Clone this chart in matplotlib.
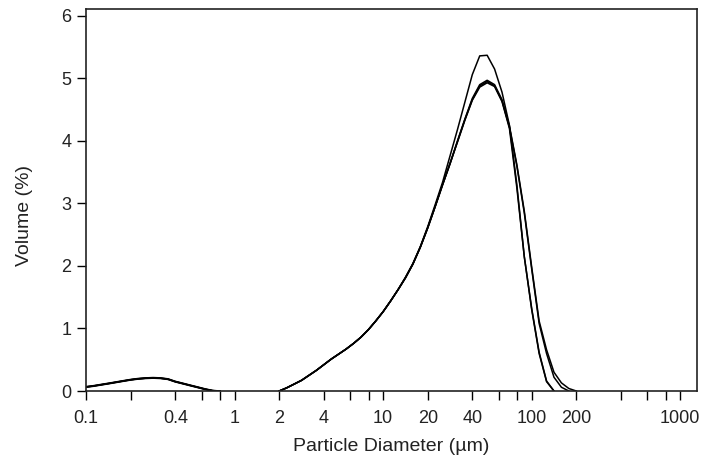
import numpy as np
import matplotlib
matplotlib.use("Agg")
import matplotlib.pyplot as plt
from matplotlib.ticker import FixedLocator, NullFormatter

plt.rcParams['font.family'] = ['Liberation Sans', 'DejaVu Sans']

# size classes (um), instrument bins
sizes = [0.100, 0.112, 0.126, 0.142, 0.159, 0.178, 0.200, 0.224, 0.252, 0.283,
         0.317, 0.356, 0.399, 0.448, 0.502, 0.564, 0.632, 0.710, 0.796, 0.893,
         1.002, 1.125, 1.262, 1.416, 1.589, 1.783, 2.000, 2.244, 2.518, 2.825,
         3.170, 3.557, 3.991, 4.477, 5.024, 5.637, 6.325, 7.096, 7.962, 8.934,
         10.024, 11.247, 12.619, 14.159, 15.887, 17.825, 20.000, 22.440, 25.179, 28.251,
         31.698, 35.566, 39.905, 44.774, 50.238, 56.368, 63.246, 70.963, 79.621, 89.337,
         100.237, 112.468, 126.191, 141.589, 158.866, 178.250, 200.000]

# volume % for each replicate
run_a = [0.065, 0.08, 0.10, 0.12, 0.14, 0.16, 0.18, 0.195, 0.205, 0.21,
         0.205, 0.19, 0.15, 0.12, 0.09, 0.06, 0.03, 0.005, 0.0, 0.0,
         0.0, 0.0, 0.0, 0.0, 0.0, 0.0, 0.0, 0.05, 0.11, 0.17,
         0.25, 0.33, 0.42, 0.51, 0.59, 0.67, 0.76, 0.86, 0.98, 1.12,
         1.27, 1.44, 1.62, 1.82, 2.04, 2.31, 2.63, 2.98, 3.34, 3.76,
         4.18, 4.62, 5.06, 5.36, 5.37, 5.15, 4.78, 4.25, 3.30, 2.15,
         1.30, 0.60, 0.15, 0.0, 0.0, 0.0, 0.0]
run_b = [0.07, 0.085, 0.105, 0.125, 0.145, 0.165, 0.185, 0.2, 0.21, 0.215,
         0.21, 0.195, 0.155, 0.125, 0.095, 0.065, 0.035, 0.01, 0.0, 0.0,
         0.0, 0.0, 0.0, 0.0, 0.0, 0.0, 0.0, 0.05, 0.11, 0.17,
         0.25, 0.33, 0.42, 0.51, 0.59, 0.67, 0.76, 0.86, 0.98, 1.12,
         1.27, 1.44, 1.62, 1.81, 2.03, 2.30, 2.61, 2.95, 3.30, 3.64,
         3.98, 4.33, 4.65, 4.86, 4.93, 4.87, 4.63, 4.20, 3.25, 2.15,
         1.32, 0.62, 0.16, 0.0, 0.0, 0.0, 0.0]
run_c = [0.06, 0.075, 0.095, 0.115, 0.135, 0.155, 0.175, 0.19, 0.2, 0.205,
         0.2, 0.185, 0.145, 0.115, 0.085, 0.055, 0.025, 0.005, 0.0, 0.0,
         0.0, 0.0, 0.0, 0.0, 0.0, 0.0, 0.0, 0.05, 0.11, 0.17,
         0.25, 0.33, 0.42, 0.51, 0.59, 0.67, 0.76, 0.86, 0.98, 1.12,
         1.27, 1.44, 1.62, 1.81, 2.03, 2.30, 2.61, 2.95, 3.30, 3.63,
         3.99, 4.34, 4.66, 4.88, 4.95, 4.88, 4.64, 4.22, 3.60, 2.85,
         1.95, 1.08, 0.60, 0.22, 0.06, 0.0, 0.0]
run_d = [0.065, 0.08, 0.10, 0.12, 0.14, 0.16, 0.18, 0.195, 0.205, 0.21,
         0.205, 0.19, 0.15, 0.12, 0.09, 0.06, 0.03, 0.005, 0.0, 0.0,
         0.0, 0.0, 0.0, 0.0, 0.0, 0.0, 0.0, 0.05, 0.11, 0.17,
         0.25, 0.33, 0.42, 0.51, 0.59, 0.67, 0.76, 0.86, 0.98, 1.12,
         1.27, 1.44, 1.62, 1.81, 2.03, 2.30, 2.61, 2.95, 3.30, 3.64,
         4.00, 4.35, 4.68, 4.90, 4.97, 4.90, 4.66, 4.24, 3.62, 2.88,
         1.98, 1.12, 0.66, 0.30, 0.13, 0.04, 0.0]

x_ticks = [0.1, 0.2, 0.4, 0.6, 0.8, 1, 2, 4, 6, 8, 10, 20, 40, 60, 80,
           100, 200, 400, 600, 800, 1000]
x_labels = ["0.1", "0.4", "1", "2", "4", "10", "20", "40", "100", "200", "1000"]
y_ticks = [0, 1, 2, 3, 4, 5, 6]


def trim(y):
    # the bump and main peak are drawn separately, skip empty bins in between
    y = np.array(y, dtype=float)
    out = y.copy()
    for i in range(len(y)):
        left = y[i - 1] if i > 0 else 0
        right = y[i + 1] if i < len(y) - 1 else 0
        if y[i] == 0 and left == 0 and right == 0:
            out[i] = np.nan
    return out


fig = plt.figure(figsize=(7.07, 4.61), dpi=100)
ax = fig.add_axes([86 / 707, 1 - 391 / 461, 611 / 707, 382 / 461])

for run in [run_a, run_b, run_c, run_d]:
    ax.plot(sizes, trim(run), color="black", lw=1.1)

ax.set_xscale("log")
ax.set_xlim(0.1, 10 ** 3.114)
ax.set_ylim(0, 6.11)

ax.xaxis.set_major_locator(FixedLocator([float(s) for s in x_labels]))
ax.set_xticklabels(x_labels)
ax.xaxis.set_minor_locator(FixedLocator([t for t in x_ticks if str(t) not in x_labels]))
ax.xaxis.set_minor_formatter(NullFormatter())
ax.set_yticks(y_ticks)

ax.tick_params(axis="both", which="both", direction="out", length=6.5, width=1.0,
               color="black", labelsize=13, labelcolor="#222222")
ax.tick_params(axis="x", pad=7)
ax.tick_params(axis="y", pad=4)

for sp in ax.spines.values():
    sp.set_linewidth(1.2)
    sp.set_color("#222222")

ax.set_xlabel("Particle Diameter (µm)", fontsize=14, color="#222222", labelpad=8)
ax.set_ylabel("Volume (%)", fontsize=14, color="#222222")
ax.yaxis.set_label_coords(-0.087, 0.46)

fig.savefig("out.png", dpi=100)
